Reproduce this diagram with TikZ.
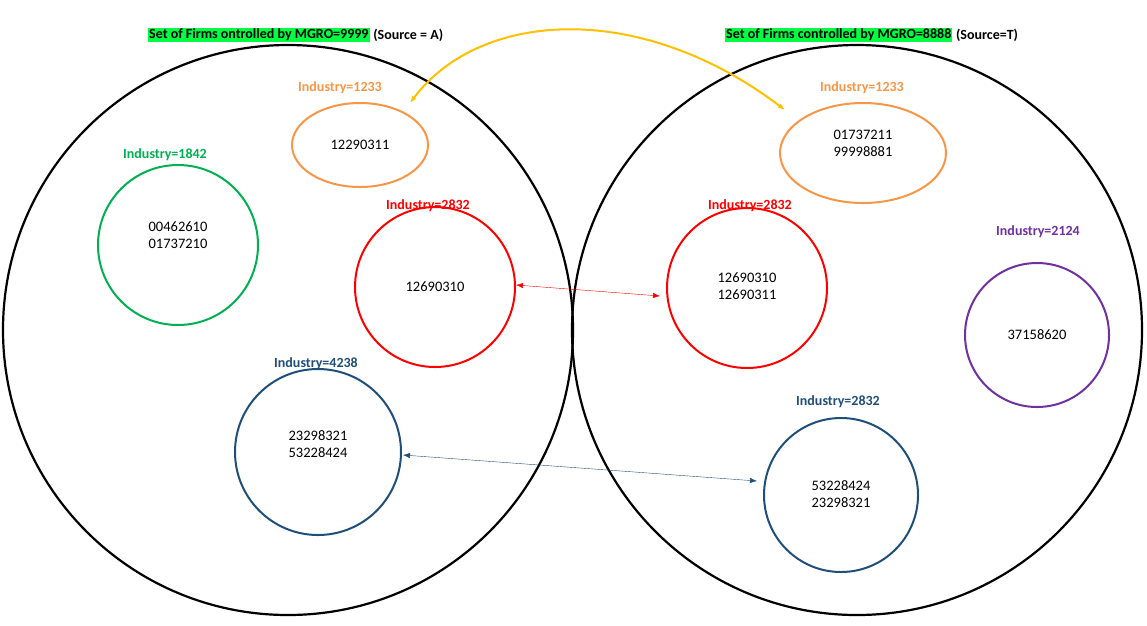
\documentclass[tikz,border=0pt]{standalone}
\usepackage{fontspec}
\setmainfont{Carlito}
\usetikzlibrary{arrows.meta}
\definecolor{indorange}{HTML}{F79646}
\definecolor{indgreen}{HTML}{00B050}
\definecolor{indred}{HTML}{FF0000}
\definecolor{indnavy}{HTML}{1F4E79}
\definecolor{indpurple}{HTML}{7030A0}
\definecolor{linkyellow}{HTML}{FFC000}
\definecolor{hilite}{HTML}{00FF40}

\begin{document}
\begin{tikzpicture}[x=1pt, y=-1pt, font=\fontsize{14.5}{17}\selectfont,
  setcircle/.style={draw=black, line width=2.2pt, circle, minimum size=570pt},
  indline/.style={line width=2pt},
  indlabel/.style={font=\fontsize{14}{17}\selectfont\bfseries},
  link/.style={{Latex[length=7pt]}-{Latex[length=7pt]}}]
\useasboundingbox (0,0) rectangle (1147,625);

% the two sets
\node[setcircle] (setA) at (288,330) {};
\node[setcircle] (setT) at (857,330) {};

% titles
\node[indlabel, fill=hilite, inner sep=1pt, anchor=west] (titleA) at (148,35) {Set of Firms ontrolled by MGRO=9999};
\node[indlabel, anchor=west, inner sep=1pt] at (titleA.east) {\,(Source = A)};
\node[indlabel, fill=hilite, inner sep=1pt, anchor=west] (titleT) at (725,35) {Set of Firms controlled by MGRO=8888};
\node[indlabel, anchor=west, inner sep=1pt] at (titleT.east) {\,(Source=T)};

% industries in set A
\draw[indorange, indline] (360,145) ellipse (68 and 42);
\node (a1233) at (360,145) {12290311};
\node[indlabel, text=indorange] at (340,88) {Industry=1233};
\draw[indgreen, indline] (178,245) circle (80);
\node[align=center] (a1842) at (178,235) {00462610\\01737210};
\node[indlabel, text=indgreen] at (165,155) {Industry=1842};
\draw[indred, indline] (435,287) circle (80);
\node (a2832) at (435,287) {12690310};
\node[indlabel, text=indred] at (428,206) {Industry=2832};
\draw[indnavy, indline] (318,452) circle (83);
\node[align=center] (a4238) at (318,444) {23298321\\53228424};
\node[indlabel, text=indnavy] at (316,364) {Industry=4238};

% industries in set T
\draw[indorange, indline] (863,153) ellipse (83 and 50);
\node[align=center] (t1233) at (863,143) {01737211\\99998881};
\node[indlabel, text=indorange] at (862,88) {Industry=1233};
\draw[indred, indline] (747,288) circle (80);
\node[align=center] (t2832) at (747,286) {12690310\\12690311};
\node[indlabel, text=indred] at (750,206) {Industry=2832};
\draw[indpurple, indline] (1037,335) circle (72);
\node (t2124) at (1037,335) {37158620};
\node[indlabel, text=indpurple] at (1038,232) {Industry=2124};
\draw[indnavy, indline] (841,495) circle (77);
\node[align=center] (t2832b) at (841,494) {53228424\\23298321};
\node[indlabel, text=indnavy] at (838,402) {Industry=2832};

% links
\coordinate (ya) at (410,103);
\coordinate (yt) at (785,110);
\draw[link, linkyellow, line width=2pt] (ya) .. controls (480,10) and (640,0) .. (yt);
\coordinate (ra) at (516,285);
\coordinate (rt) at (660,296);
\draw[link, indred] (ra) -- (rt);
\coordinate (na) at (403,455);
\coordinate (nt) at (757,481);
\draw[link, indnavy] (na) -- (nt);
\end{tikzpicture}
\end{document}
